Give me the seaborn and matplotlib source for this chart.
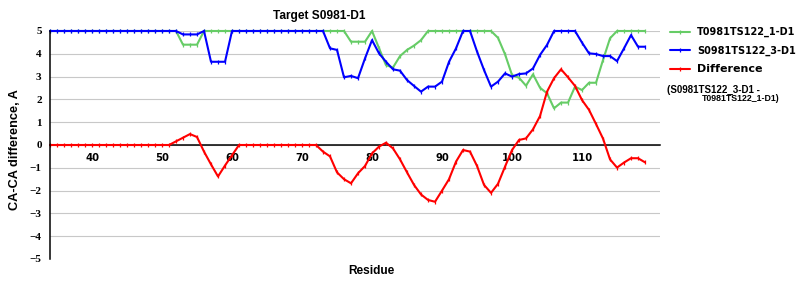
import matplotlib
matplotlib.use('Agg')
import matplotlib.pyplot as plt
import seaborn as sns
import pandas as pd
from matplotlib import font_manager as fm

# ---------------- data ----------------
residues = list(range(34, 120))

model_t = [  # T0981TS122_1-D1
    5, 5, 5, 5, 5, 5,
    5, 5, 5, 5, 5, 5, 5, 5, 5, 5,
    5, 5, 5, 4.4, 4.4, 4.4, 5, 5, 5, 5,
    5, 5, 5, 5, 5, 5, 5, 5, 5, 5,
    5, 5, 5, 5, 5, 5, 5, 4.53, 4.53, 4.53,
    5, 4.25, 3.5, 3.4, 3.9, 4.17, 4.36, 4.6, 5, 5,
    5, 5, 5, 5, 5, 5, 5, 5, 4.7, 3.98,
    3.07, 2.95, 2.6, 3.1, 2.51, 2.27, 1.61, 1.86, 1.86, 2.56,
    2.41, 2.73, 2.73, 3.73, 4.68, 5, 5, 5, 5, 5,
]

model_s = [  # S0981TS122_3-D1
    5, 5, 5, 5, 5, 5,
    5, 5, 5, 5, 5, 5, 5, 5, 5, 5,
    5, 5, 5, 4.85, 4.85, 4.85, 5, 3.65, 3.65, 3.65,
    5, 5, 5, 5, 5, 5, 5, 5, 5, 5,
    5, 5, 5, 5, 4.24, 4.17, 2.97, 3.03, 2.93, 3.8,
    4.6, 4.02, 3.65, 3.32, 3.26, 2.85, 2.59, 2.34, 2.56, 2.56,
    2.78, 3.65, 4.24, 5, 5, 4.1, 3.29, 2.56, 2.78, 3.14,
    3.0, 3.11, 3.14, 3.36, 3.95, 4.39, 5, 5, 5, 5,
    4.49, 4.02, 3.99, 3.9, 3.9, 3.68, 4.24, 4.82, 4.31, 4.31,
]

difference = [
    0, 0, 0, 0, 0, 0,
    0, 0, 0, 0, 0, 0, 0, 0, 0, 0,
    0, 0, 0.16, 0.32, 0.48, 0.35, -0.29, -0.85, -1.38, -0.9,
    -0.45, 0, 0, 0, 0, 0, 0, 0, 0, 0,
    0, 0, 0, -0.29, -0.5, -1.2, -1.5, -1.68, -1.24, -0.92,
    -0.37, -0.07, 0.1, -0.15, -0.63, -1.2, -1.75, -2.17, -2.41, -2.49,
    -2.0, -1.5, -0.73, -0.22, -0.29, -0.92, -1.75, -2.1, -1.7, -0.95,
    -0.22, 0.22, 0.29, 0.69, 1.27, 2.34, 2.93, 3.32, 2.97, 2.59,
    1.97, 1.54, 0.92, 0.28, -0.63, -0.99, -0.77, -0.58, -0.58, -0.76,
]

series_names = ["T0981TS122_1-D1", "S0981TS122_3-D1", "Difference"]
series_colors = ["#66CC66", "#0000FF", "#FF0000"]
x_ticks = [40, 50, 60, 70, 80, 90, 100, 110]
y_ticks = [-5, -4, -3, -2, -1, 0, 1, 2, 3, 4, 5]

# ---------------- style ----------------
sns.set_theme(style='white')
plt.rcParams['font.family'] = ['DejaVu Sans']
plt.rcParams['text.color'] = 'black'
plt.rcParams['axes.labelcolor'] = 'black'
plt.rcParams['xtick.color'] = 'black'
plt.rcParams['ytick.color'] = 'black'


def has_font(name):
    try:
        fm.findfont(fm.FontProperties(family=name, weight='bold'), fallback_to_default=False)
        return True
    except Exception:
        return False


if has_font('Liberation Sans Narrow'):
    narrow_family, narrow_size = 'Liberation Sans Narrow', 9.5
else:
    narrow_family, narrow_size = 'Liberation Sans', 8.6

df = pd.DataFrame({
    'Residue': residues * 3,
    'value': model_t + model_s + difference,
    'series': [n for n in series_names for _ in residues],
})

W, H = 800, 300
fig = plt.figure(figsize=(8, 3), dpi=100)
ax = fig.add_axes([50 / W, 1 - 259 / H, 610 / W, 228 / H])

sns.lineplot(data=df, x='Residue', y='value', hue='series', hue_order=series_names,
             palette=dict(zip(series_names, series_colors)), errorbar=None,
             marker='|', markersize=3.5, markeredgewidth=0.9, linewidth=1.5,
             ax=ax, clip_on=False)

for line in ax.lines:
    line.set_markeredgecolor(line.get_color())

ax.set_xlim(34, 121.14)
ax.set_ylim(-5, 5)
ax.set_xticks(x_ticks)
ax.set_yticks(y_ticks)
ax.set_xlabel('')
ax.set_ylabel('')

ax.yaxis.grid(True, color='#C8C8C8', linewidth=0.8)
ax.xaxis.grid(False)
ax.set_axisbelow(True)
ax.get_ygridlines()[0].set_visible(False)

for s in ['top', 'right']:
    ax.spines[s].set_visible(False)
ax.spines['left'].set_color('black')
ax.spines['left'].set_linewidth(1.1)
ax.spines['bottom'].set_position(('data', 0))
ax.spines['bottom'].set_color('black')
ax.spines['bottom'].set_linewidth(1.1)
ax.spines['bottom'].set_zorder(1.5)

ax.tick_params(axis='x', length=3, color='#A0A0A0', labelcolor='black', width=0.8, pad=3, labelsize=7.2)
ax.tick_params(axis='y', length=0, pad=6, labelcolor='black')
for lab in ax.get_xticklabels():
    lab.set_fontweight('bold')
    lab.set_family('DejaVu Sans')
for lab in ax.get_yticklabels():
    lab.set_fontweight('bold')
    lab.set_family(['Liberation Serif', 'DejaVu Serif'])
    lab.set_fontsize(8)

# titles / labels
fig.text(319 / W, 1 - 15.5 / H, 'Target S0981-D1', ha='center', va='center', color='black',
         fontweight='bold', family=[narrow_family, 'DejaVu Sans'], fontsize=narrow_size)
fig.text(371 / W, 1 - 271 / H, 'Residue', ha='center', va='center', color='black',
         fontweight='bold', family=[narrow_family, 'DejaVu Sans'], fontsize=narrow_size)
fig.text(15 / W, 1 - 150 / H, 'CA-CA difference, A', ha='center', va='center', rotation=90,
         color='black', fontweight='bold', family=['Liberation Sans', 'DejaVu Sans'], fontsize=9.2)

# legend
handles, labels = ax.get_legend_handles_labels()
for h in handles:
    try:
        h.set_markeredgecolor(h.get_color())
    except Exception:
        pass
leg = ax.legend(handles, labels, loc='upper left',
                bbox_to_anchor=(670 / W, 1 - 27 / H), bbox_transform=fig.transFigure,
                frameon=False, borderpad=0, borderaxespad=0, handlelength=2.1,
                handletextpad=0.7, labelspacing=0.85,
                prop={'family': 'DejaVu Sans', 'weight': 'bold', 'size': 7})
for t in leg.get_texts():
    t.set_color('black')
leg.get_texts()[2].set_fontsize(8)

fig.text(667 / W, 1 - 89.5 / H, '(S0981TS122_3-D1 -', ha='left', va='center', color='black',
         fontweight='bold', family=[narrow_family, 'DejaVu Sans'], fontsize=7)
fig.text(702 / W, 1 - 98.5 / H, 'T0981TS122_1-D1)', ha='left', va='center', color='black',
         fontweight='bold', family=[narrow_family, 'DejaVu Sans'], fontsize=6.3)

fig.savefig('out.png', dpi=100)
